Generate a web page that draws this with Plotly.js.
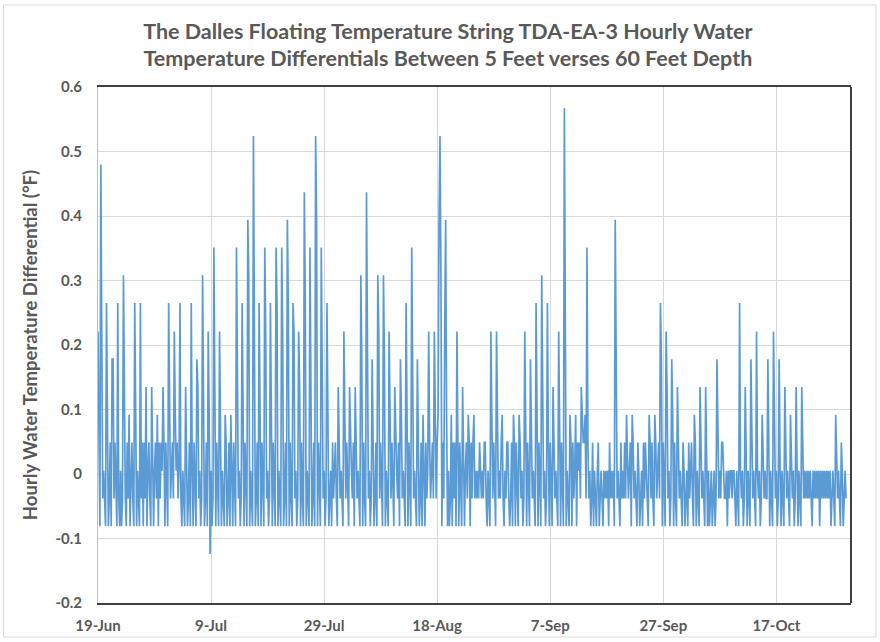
<!DOCTYPE html>
<html>
<head>
<meta charset="utf-8">
<script src="https://cdn.plot.ly/plotly-3.0.1.min.js"></script>
<style>
html,body{margin:0;padding:0;background:#fff;}
#chart{width:880px;height:642px;}
</style>
</head>
<body>
<div id="chart"></div>
<script>
// ---- Data ----
// Series start and sampling interval (values below are every 4 hours, 6 per day)
const startDate = '2019-06-19 00:00';
const stepHours = 4;

// Hourly water temperature differential, 5 ft vs 60 ft depth (°F)
const diffF = [
 .221,.049,-.081,.480,.221,-.038,
 .005,-.038,-.081,.265,.049,-.081,
 -.038,.049,-.081,.178,.178,-.038,
 .049,-.038,-.081,.265,-.038,-.081,
 .005,-.081,-.038,.308,.092,-.038,
 -.081,.049,-.038,.092,-.081,.005,
 .049,-.038,-.081,.265,.135,-.081,
 .005,-.038,-.081,.265,-.038,.049,
 -.081,.049,-.038,.135,-.081,.005,
 .049,-.038,-.081,.135,.049,-.081,
 .005,.049,-.038,.092,-.081,.049,
 -.038,.049,.005,.135,.049,-.081,
 .049,-.038,-.081,.265,.049,-.038,
 .005,.049,-.038,.221,.092,.005,
 .049,-.038,.005,.265,-.038,-.081,
 .005,-.038,-.081,.135,.049,-.081,
 -.038,.049,-.081,.265,.005,-.081,
 .049,-.038,-.081,.178,.135,-.038,
 .005,-.081,-.038,.308,.049,-.081,
 -.038,.049,-.081,.221,.092,-.124,
 .005,-.081,-.038,.351,.135,-.081,
 .049,-.038,-.081,.221,.049,-.081,
 .005,-.038,-.081,.092,.049,-.081,
 -.038,.049,-.081,.092,.005,-.081,
 .049,-.038,-.081,.351,.049,-.038,
 .005,-.081,-.038,.265,.092,-.081,
 .049,-.038,-.081,.394,.308,-.081,
 .005,-.038,-.081,.524,.178,-.081,
 -.038,.049,-.081,.265,.092,-.081,
 .049,-.038,-.081,.351,.221,-.038,
 .005,-.081,-.038,.265,.092,-.081,
 .049,-.038,-.081,.351,.265,-.081,
 .005,-.038,-.081,.351,.221,-.081,
 -.038,.049,-.081,.394,.265,-.081,
 .049,-.038,-.081,.265,.221,-.038,
 .005,-.081,-.038,.221,.135,-.081,
 .049,-.038,-.081,.437,.265,-.081,
 .005,-.038,-.081,.351,.092,-.081,
 -.038,.049,-.081,.524,.394,-.081,
 .049,-.038,-.081,.351,.178,-.038,
 .005,-.081,-.038,.265,.092,-.081,
 -.038,.005,-.081,.049,-.038,.005,
 .049,-.038,-.081,.135,.049,-.038,
 .005,-.038,-.081,.221,.092,-.038,
 .049,-.038,-.081,.135,.049,.005,
 -.038,.049,-.081,.135,.049,-.038,
 .005,-.038,-.081,.308,.178,-.081,
 .049,-.038,-.081,.437,.178,-.038,
 .005,-.081,-.038,.178,.049,-.081,
 -.038,.049,-.081,.308,.221,-.038,
 .049,-.038,-.081,.308,.178,-.081,
 .005,-.038,-.081,.221,.049,-.038,
 .049,-.038,-.081,.135,.049,.005,
 -.038,.049,-.081,.178,.092,-.038,
 .005,-.038,-.081,.265,.135,-.081,
 .049,-.038,-.081,.351,.092,-.038,
 .005,-.038,-.081,.178,.049,-.081,
 -.038,.049,-.081,.092,.005,-.081,
 .049,-.038,.005,.221,.049,-.038,
 .005,.049,-.038,.221,.092,-.038,
 .049,.092,.394,.524,.308,-.081,
 .049,-.038,.221,.394,.092,-.081,
 .005,-.081,-.038,.092,-.081,.049,
 -.038,.049,-.081,.221,.049,-.081,
 .049,-.038,-.081,.135,.049,-.081,
 .005,.049,-.038,.092,.049,-.081,
 .049,-.038,.049,.092,-.038,.005,
 -.038,.005,-.038,.049,.005,-.038,
 .005,-.038,.049,.049,-.038,-.081,
 .005,-.038,-.081,.221,.049,-.038,
 .049,-.038,-.081,.221,.049,-.038,
 .005,-.038,.049,.092,-.038,-.081,
 .005,-.038,.049,.049,-.038,-.081,
 -.038,.049,-.081,.092,.049,-.081,
 .049,-.038,-.081,.092,.049,-.038,
 .005,-.081,-.038,.221,.092,-.081,
 .049,-.038,-.081,.178,.049,-.038,
 .005,-.038,-.081,.265,.135,-.081,
 .049,-.038,-.081,.308,.092,-.038,
 .005,-.081,-.038,.265,.049,-.081,
 .049,-.038,-.081,.135,.049,-.038,
 .005,-.038,-.081,.221,.049,-.081,
 .049,-.038,-.081,.567,.092,-.081,
 .005,-.038,-.081,.092,.049,-.081,
 .049,-.038,.005,.092,-.081,.049,
 .005,.049,-.038,.135,.092,.049,
 .049,.092,-.038,.351,.049,-.038,
 .005,-.081,-.038,.049,-.081,.005,
 -.038,-.081,.005,.049,-.081,-.038,
 .005,-.038,-.081,.005,-.038,.005,
 -.038,.005,-.081,.049,-.038,.005,
 -.038,.005,-.081,.394,.092,-.038,
 .005,-.038,-.081,.049,-.038,.005,
 -.038,.049,-.038,.092,.005,-.038,
 .005,.049,-.081,.092,.049,-.038,
 .005,-.038,-.081,.049,.005,-.081,
 -.038,.005,-.081,.049,-.038,.049,
 .005,-.038,-.081,.092,.049,-.038,
 .049,-.038,-.081,.092,.049,-.038,
 .005,.049,-.038,.265,.178,-.081,
 .049,-.038,-.081,.221,.135,-.038,
 .005,-.081,-.038,.178,.092,-.081,
 .049,-.038,-.081,.135,.049,-.038,
 .005,-.038,-.081,.049,.005,-.081,
 -.038,.005,-.081,.049,-.038,.005,
 .049,-.038,-.081,.092,.049,-.081,
 .005,-.038,-.081,.135,.049,-.038,
 .005,-.038,-.081,.135,-.038,-.081,
 .005,-.081,-.038,.005,-.081,-.038,
 .005,-.081,-.038,.178,.005,-.038,
 .005,-.038,.049,.049,.005,-.038,
 -.038,.005,-.081,.005,-.038,.005,
 .005,-.038,.005,.005,-.038,-.081,
 .005,-.038,-.081,.265,.005,-.038,
 .005,-.081,-.038,.135,.005,-.081,
 .005,-.038,-.081,.178,.049,-.038,
 .005,-.038,-.081,.221,.005,-.038,
 .005,-.081,-.038,.092,.005,-.038,
 .005,-.038,-.038,.178,.049,-.081,
 .005,-.038,-.081,.221,.092,-.038,
 .005,-.081,-.038,.178,.005,-.081,
 .005,-.038,-.081,.135,.005,-.038,
 .005,-.038,-.081,.092,.005,-.038,
 .005,-.081,-.038,.135,.005,-.081,
 .005,-.038,-.081,.135,.005,-.038,
 .005,-.038,.005,-.038,.005,-.038,
 .005,-.038,-.081,.005,-.038,.005,
 -.038,.005,-.038,.005,-.081,.005,
 -.038,.005,-.038,.005,-.038,.005,
 -.038,.005,-.038,.005,-.081,-.038,
 .005,-.038,-.081,.092,.005,-.038,
 .005,-.038,-.081,.049,.005,-.081,
 -.038,.005,-.038
];

// Axis ticks
const tickDates  = ['2019-06-19','2019-07-09','2019-07-29','2019-08-18','2019-09-07','2019-09-27','2019-10-17'];
const tickLabels = ['19-Jun','9-Jul','29-Jul','18-Aug','7-Sep','27-Sep','17-Oct'];
const yTickVals  = [-0.2,-0.1,0,0.1,0.2,0.3,0.4,0.5,0.6];
const yTickText  = ['-0.2','-0.1','0','0.1','0.2','0.3','0.4','0.5','0.6'];
const xRange     = ['2019-06-19 00:00','2019-10-30 05:00'];

// ---- Build timestamps for the samples ----
const t0 = Date.parse(startDate.replace(' ','T') + ':00Z');
const times = diffF.map((v,i) => new Date(t0 + i*stepHours*3600e3).toISOString().slice(0,16).replace('T',' '));

const font = "Lato, 'Open Sans', 'Liberation Sans', sans-serif";
const grey = '#595959';

const trace = {
  x: times, y: diffF, type: 'scatter', mode: 'lines',
  line: {color: '#5B9BD5', width: 1.7},
  hoverinfo: 'x+y', showlegend: false
};

const layout = {
  width: 880, height: 642,
  margin: {l: 98, r: 29, t: 87, b: 39},
  paper_bgcolor: '#ffffff', plot_bgcolor: '#ffffff',
  font: {family: font, color: grey},
  title: {
    text: '<b>The Dalles Floating Temperature String TDA-EA-3 Hourly Water<br>Temperature Differentials Between 5 Feet verses 60 Feet Depth</b>',
    font: {family: font, size: 21.5, color: grey},
    x: 0.509, xref: 'container', xanchor: 'center',
    y: 0.94, yref: 'container', yanchor: 'middle'
  },
  xaxis: {
    type: 'date', range: xRange,
    tickmode: 'array', tickvals: tickDates, ticktext: tickLabels,
    tickfont: {family: font, size: 15, color: grey, weight: 'bold'},
    showgrid: true, gridcolor: '#d9d9d9', gridwidth: 1,
    showline: true, linecolor: '#404040', linewidth: 2, mirror: true,
    ticks: '', ticklabelstandoff: 8, zeroline: false
  },
  yaxis: {
    range: [-0.2, 0.6],
    tickmode: 'array', tickvals: yTickVals, ticktext: yTickText,
    tickfont: {family: font, size: 15, color: grey, weight: 'bold'},
    showgrid: true, gridcolor: '#d9d9d9', gridwidth: 1,
    showline: true, linecolor: '#bfbfbf', linewidth: 1,
    ticks: '', ticklabelstandoff: 12, zeroline: false,
    title: {text: '<b>Hourly Water Temperature Differential (°F)</b>',
            font: {family: font, size: 18.5, color: grey}, standoff: 12}
  },
  shapes: [
    {type: 'line', xref: 'paper', yref: 'paper', x0: 1, x1: 1, y0: 0, y1: 1,
     line: {color: '#404040', width: 2}},
    {type: 'rect', xref: 'paper', yref: 'paper', x0: -0.1256, x1: 1.0332, y0: -0.0659, y1: 1.159,
     line: {color: '#d9d9d9', width: 1}, fillcolor: 'rgba(0,0,0,0)', layer: 'below'}
  ]
};

Plotly.newPlot('chart', [trace], layout, {displayModeBar: false, staticPlot: true});
</script>
</body>
</html>
